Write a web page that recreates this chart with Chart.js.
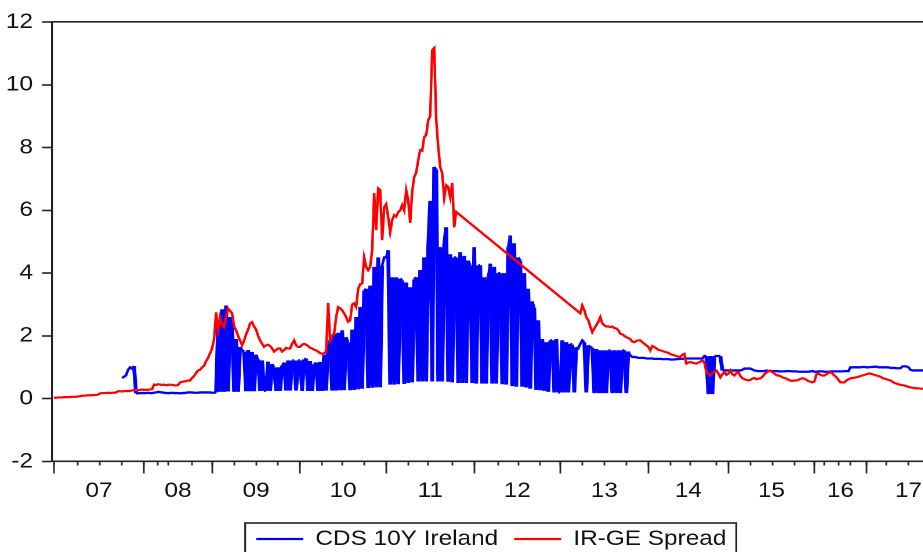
<!DOCTYPE html>
<html>
<head>
<meta charset="utf-8">
<script src="https://cdn.jsdelivr.net/npm/chart.js@4.4.1/dist/chart.umd.min.js"></script>
<style>
  html, body { margin: 0; padding: 0; background: #fff; overflow: hidden; width: 923px; height: 552px; }
  /* the plot is laid out in a narrower canvas and widened, which gives the wide lettering */
  #wrap { position: absolute; left: 0; top: 0; transform: scaleX(1.16); transform-origin: 0 0; }
</style>
</head>
<body>
<div id="wrap"><canvas id="chart" width="847" height="570"></canvas></div>
<script>
// Sampled observations (percentage points), one array per calendar year.
const yearLabels = ['07', '08', '09', '10', '11', '12', '13', '14', '15', '16', '17'];
const yTickValues = [-2, 0, 2, 4, 6, 8, 10, 12];

// observations per quarter in each year
const quarterObs = [
  [12, 11, 11, 11], [7, 5, 12, 10], [11, 11, 11, 11], [11, 10, 11, 11],
  [11, 10, 12, 11], [12, 10, 11, 10], [11, 11, 11, 11], [11, 10, 13, 6],
  [11, 11, 11, 10], [5, 7, 6, 8], [10, 11, 10, 11]
];

// CDS 10Y Ireland
const cds07 = [
  null, null, null, null, null, null, null, null, null, null,
  null, null, null, null, null, null, null, null, null, null,
  null, null, null, null, null, null, null, null, null, null,
  null, null, null, null,
  0.66, 0.70, 0.74, 0.92, 1.00, 0.96, 1.04, 0.17, 0.17, 0.18, 0.18
];
const cds08 = [
  0.18, 0.18, 0.19, 0.18, 0.18, 0.19, 0.20, 0.22, 0.21, 0.20,
  0.19, 0.18, 0.18, 0.18, 0.19, 0.18, 0.18, 0.18, 0.17, 0.18,
  0.18, 0.19, 0.20, 0.20, 0.20, 0.19, 0.19, 0.19, 0.20, 0.20,
  0.20, 0.20, 0.20, 0.20
];
const cds09 = [
  0.19, 0.19, 0.20, 2.30, 0.22, 2.85, 0.22, 2.97, 0.23, 2.60,
  2.30, 0.22, 1.90, 0.22, 1.65, 1.55, 1.50, 0.24, 1.55, 0.24,
  1.49, 0.24, 1.40, 1.25, 0.25, 1.22, 0.25, 0.25, 1.18, 0.25,
  1.10, 1.00, 0.25, 1.00, 0.25, 1.05, 1.15, 0.26, 1.22, 0.26,
  1.22, 1.22, 0.26, 1.22
];
const cds10 = [
  1.22, 0.25, 1.25, 1.28, 0.25, 1.20, 0.25, 1.10, 1.15, 0.25,
  1.17, 0.25, 1.40, 0.26, 1.75, 1.86, 0.26, 2.07, 0.26, 2.10,
  0.27, 2.18, 0.27, 1.96, 1.80, 0.27, 2.20, 0.28, 2.60, 0.30,
  2.92, 0.32, 3.45, 3.50, 0.34, 3.60, 0.35, 4.20, 0.36, 4.50,
  0.36, 4.25, 4.50
];
const cds11 = [
  4.50, 4.73, 0.45, 3.87, 0.45, 3.87, 0.46, 3.83, 3.77, 0.47,
  3.70, 0.50, 3.55, 0.52, 3.80, 3.87, 0.55, 4.10, 0.55, 4.50,
  0.55, 4.80, 6.30, 0.55, 7.38, 7.30, 0.55, 4.83, 0.55, 4.90,
  5.46, 0.54, 4.60, 0.52, 4.50, 4.50, 0.50, 4.67, 0.50, 4.55,
  0.50, 4.40, 4.25, 0.50
];
const cds12 = [
  4.83, 0.48, 4.25, 4.25, 0.48, 3.87, 0.48, 3.90, 4.30, 0.48,
  4.20, 0.48, 4.00, 4.00, 0.46, 4.00, 0.45, 4.83, 5.20, 0.40,
  4.95, 0.38, 4.50, 4.40, 0.38, 4.00, 0.36, 3.50, 0.32, 3.10,
  2.90, 0.28, 2.50, 0.27, 1.90, 0.25, 1.80, 0.22, 1.86, 1.86,
  0.20, 1.90, 0.20
];
const cds13 = [
  0.20, 1.86, 0.20, 1.80, 0.20, 1.75, 1.72, 0.20, 1.64, 1.60,
  1.75, 1.86, 1.80, 0.20, 1.70, 1.65, 1.62, 0.18, 1.58, 0.18,
  1.54, 0.18, 1.54, 0.18, 1.54, 1.54, 0.18, 1.54, 0.18, 1.54,
  0.18, 1.54, 1.54, 0.18, 1.50, 1.38, 1.33, 1.33, 1.32, 1.30,
  1.30, 1.30, 1.30, 1.28
];
const cds14 = [
  1.28, 1.28, 1.28, 1.27, 1.27, 1.27, 1.27, 1.26, 1.26, 1.26,
  1.26, 1.25, 1.25, 1.25, 1.26, 1.26, 1.27, 1.27, 1.28, 1.28,
  1.28, 1.28, 1.28, 1.28, 1.28, 1.28, 1.28, 1.28, 1.36, 1.36,
  0.15, 1.36, 0.15, 1.36, 1.36, 1.36, 1.36, 0.90, 0.90, 0.90
];
const cds15 = [
  0.90, 0.90, 0.90, 0.90, 0.90, 0.90, 0.90, 0.92, 0.96, 0.96,
  0.96, 0.96, 0.93, 0.90, 0.89, 0.88, 0.88, 0.88, 0.88, 0.90,
  0.88, 0.88, 0.88, 0.88, 0.88, 0.87, 0.87, 0.87, 0.87, 0.88,
  0.88, 0.88, 0.87, 0.87, 0.87, 0.86, 0.86, 0.86, 0.86, 0.86,
  0.86, 0.87, 0.88
];
const cds16 = [
  0.86, 0.86, 0.87, 0.87, 0.87, 0.86, 0.86, 0.86, 0.87, 0.87,
  0.87, 0.87, 0.87, 0.87, 0.87, 0.88, 0.88, 0.88, 1.00, 1.00,
  1.00, 1.00, 1.00, 1.00, 1.01, 1.01
];
const cds17 = [
  1.00, 1.00, 1.01, 1.01, 1.02, 1.02, 1.00, 1.00, 1.00, 1.00,
  1.00, 1.00, 0.98, 0.98, 0.98, 0.97, 0.97, 0.97, 1.03, 1.03,
  1.03, 1.00, 0.92, 0.90, 0.90, 0.90, 0.90, 0.90, 0.90, 0.90,
  0.90, 0.90, 0.90, 0.90, 0.90, 0.90, 0.90, 0.90, 0.90, 0.90,
  0.90, 0.90
];

// IR-GE Spread (no quotes between late 2011 and mid 2013)
const spread07 = [
  0.03, 0.03, 0.04, 0.04, 0.04, 0.05, 0.05, 0.05, 0.05, 0.06,
  0.06, 0.06, 0.07, 0.08, 0.09, 0.10, 0.10, 0.11, 0.11, 0.11,
  0.12, 0.12, 0.13, 0.17, 0.18, 0.18, 0.18, 0.19, 0.18, 0.19,
  0.19, 0.20, 0.24, 0.24, 0.23, 0.24, 0.25, 0.24, 0.25, 0.26,
  0.28, 0.28, 0.27, 0.28, 0.29
];
const spread08 = [
  0.28, 0.29, 0.28, 0.30, 0.30, 0.45, 0.44, 0.46, 0.45, 0.44,
  0.45, 0.43, 0.44, 0.45, 0.44, 0.43, 0.42, 0.44, 0.52, 0.54,
  0.55, 0.56, 0.58, 0.58, 0.66, 0.72, 0.82, 0.90, 0.92, 1.00,
  1.05, 1.20, 1.30, 1.45
];
const spread09 = [
  1.60, 1.90, 2.75, 2.20, 2.60, 2.35, 2.28, 2.60, 2.87, 2.80,
  2.72, 2.30, 2.18, 2.00, 1.85, 1.70, 1.85, 2.05, 2.20, 2.40,
  2.44, 2.30, 2.20, 2.00, 1.86, 1.75, 1.65, 1.70, 1.72, 1.68,
  1.60, 1.50, 1.55, 1.60, 1.60, 1.50, 1.55, 1.62, 1.60, 1.60,
  1.75, 1.86, 1.70, 1.65
];
const spread10 = [
  1.65, 1.72, 1.75, 1.72, 1.68, 1.62, 1.60, 1.56, 1.54, 1.50,
  1.45, 1.43, 1.45, 1.50, 3.05, 1.86, 2.00, 2.07, 2.60, 2.92,
  2.88, 2.82, 2.72, 2.60, 2.45, 2.50, 3.00, 3.04, 2.92, 3.50,
  3.65, 3.67, 4.50, 4.20, 4.09, 4.20, 4.73, 6.55, 5.37, 6.70,
  6.65, 5.05, 6.10
];
const spread11 = [
  6.20, 5.78, 5.30, 5.69, 5.85, 5.80, 5.94, 6.00, 6.17, 6.00,
  6.64, 6.33, 5.60, 6.60, 7.06, 7.20, 7.60, 7.92, 7.90, 8.33,
  8.40, 8.87, 9.00, 11.10, 11.17, 8.90, 8.03, 7.38, 7.18, 6.40,
  6.80, 6.74, 6.42, 6.87, 5.46, 5.95, null, null, null, null,
  null, null, null, null
];
const spread12 = [
  null, null, null, null, null, null, null, null, null, null,
  null, null, null, null, null, null, null, null, null, null,
  null, null, null, null, null, null, null, null, null, null,
  null, null, null, null, null, null, null, null, null, null,
  null, null, null
];
const spread13 = [
  null, null, null, null, null, null, null, null, null, null,
  2.72, 2.97, 2.82, 2.60, 2.50, 2.30, 2.12, 2.24, 2.34, 2.45,
  2.60, 2.40, 2.34, 2.30, 2.30, 2.28, 2.30, 2.25, 2.24, 2.18,
  2.07, 2.05, 2.00, 1.96, 1.93, 1.90, 1.82, 1.80, 1.84, 1.86,
  1.86, 1.80, 1.75, 1.70
];
const spread14 = [
  1.65, 1.54, 1.68, 1.65, 1.60, 1.56, 1.54, 1.52, 1.50, 1.48,
  1.46, 1.42, 1.40, 1.38, 1.36, 1.34, 1.33, 1.40, 1.43, 1.12,
  1.15, 1.17, 1.15, 1.13, 1.12, 1.15, 1.18, 1.22, 1.15, 0.85,
  0.78, 0.74, 0.82, 0.86, 0.90, 0.80, 0.68, 0.78, 0.85, 0.76
];
const spread15 = [
  0.80, 0.90, 0.78, 0.74, 0.82, 0.85, 0.72, 0.65, 0.62, 0.60,
  0.58, 0.60, 0.64, 0.66, 0.62, 0.64, 0.65, 0.70, 0.78, 0.84,
  0.88, 0.90, 0.85, 0.80, 0.75, 0.74, 0.72, 0.68, 0.66, 0.64,
  0.60, 0.58, 0.57, 0.58, 0.58, 0.60, 0.63, 0.65, 0.64, 0.60,
  0.56, 0.54, 0.52
];
const spread16 = [
  0.55, 0.78, 0.80, 0.76, 0.74, 0.74, 0.78, 0.82, 0.85, 0.80,
  0.74, 0.68, 0.60, 0.52, 0.52, 0.52, 0.58, 0.62, 0.65, 0.66,
  0.67, 0.68, 0.70, 0.72, 0.74, 0.76
];
const spread17 = [
  0.78, 0.80, 0.80, 0.78, 0.76, 0.74, 0.72, 0.70, 0.66, 0.64,
  0.62, 0.60, 0.58, 0.54, 0.50, 0.48, 0.46, 0.44, 0.43, 0.42,
  0.40, 0.38, 0.36, 0.35, 0.34, 0.33, 0.33, 0.32, 0.32, 0.31,
  0.30, 0.30, 0.31, 0.30, 0.29, 0.30, 0.30, 0.29, 0.30, 0.30,
  0.30, 0.30
];

const cdsYears = [cds07, cds08, cds09, cds10, cds11, cds12, cds13, cds14, cds15, cds16, cds17];
const spreadYears = [spread07, spread08, spread09, spread10, spread11, spread12, spread13, spread14, spread15, spread16, spread17];

// observation index of each year's first quote
const yearStart = [];
let obsCount = 0;
cdsYears.forEach((arr, k) => {
  if (arr.length !== spreadYears[k].length) console.warn('length mismatch', yearLabels[k]);
  yearStart.push(obsCount);
  obsCount += arr.length;
});
const lastObs = obsCount;
// the time axis runs on a little past the final quote
const axisEnd = lastObs + 16;

const quarterTicks = [];
quarterObs.forEach((q, k) => {
  let p = yearStart[k];
  q.forEach(c => { quarterTicks.push(p); p += c; });
});
quarterTicks.push(lastObs);
const yearTicks = yearStart.concat([lastObs]);
const labelTicks = yearStart.map((s, k) => ({
  value: (s + (k + 1 < yearStart.length ? yearStart[k + 1] : lastObs)) / 2,
  yr: yearLabels[k]
}));

const toPoints = years => years.flat().map((v, i) => ({ x: i, y: v }));

const FONT = "'Liberation Sans', Arial, Helvetica, sans-serif";
const AXIS = '#222';

// near-vertical jumps between quotes are stroked a little heavier so dense runs read as a solid band
const jumpWidth = c => Math.abs(c.p1.y - c.p0.y) > 14 ? 3.3 : undefined;

// frame around the legend row
const legendFrame = {
  id: 'legendFrame',
  afterDraw(chart) {
    const boxes = chart.legend && chart.legend.legendHitBoxes;
    if (!boxes || !boxes.length) return;
    const left = Math.min(...boxes.map(b => b.left)) - 9.5;
    const right = Math.max(...boxes.map(b => b.left + b.width)) + 8.6;
    const top = boxes[0].top - 5.5;
    const ctx = chart.ctx;
    ctx.save();
    ctx.strokeStyle = AXIS;
    ctx.lineWidth = 1.6;
    ctx.strokeRect(left, top, right - left, 34);
    ctx.restore();
  }
};

new Chart(document.getElementById('chart'), {
  type: 'line',
  data: {
    datasets: [
      {
        label: 'CDS 10Y Ireland',
        data: toPoints(cdsYears),
        borderColor: '#0000ff',
        backgroundColor: '#0000ff',
        borderWidth: 2.3,
        segment: { borderWidth: jumpWidth },
        pointRadius: 0,
        pointStyle: 'line',
        spanGaps: false,
        order: 2,
        xAxisID: 'x',
        yAxisID: 'y'
      },
      {
        label: 'IR-GE Spread',
        data: toPoints(spreadYears),
        borderColor: '#ff0000',
        backgroundColor: '#ff0000',
        borderWidth: 2.2,
        pointRadius: 0,
        pointStyle: 'line',
        spanGaps: true,
        order: 1,
        xAxisID: 'x',
        yAxisID: 'y'
      }
    ]
  },
  options: {
    responsive: false,
    animation: false,
    devicePixelRatio: 2,
    layout: { padding: { top: 22, bottom: 10.5, left: 0, right: 0 } },
    plugins: {
      tooltip: { enabled: false },
      legend: {
        position: 'bottom',
        labels: {
          usePointStyle: true,
          pointStyleWidth: 40.5,
          padding: 13.8,
          color: '#111',
          font: { family: FONT, size: 21 },
          sort: (a, b) => a.datasetIndex - b.datasetIndex
        }
      }
    },
    scales: {
      x: {
        type: 'linear',
        axis: 'x',
        position: 'bottom',
        min: -1,
        max: axisEnd,
        afterFit: s => { s.height = 53.2; },
        afterBuildTicks: s => {
          s.ticks = quarterTicks.map(v => ({ value: v }))
            .concat(labelTicks.map(t => ({ value: t.value, yr: t.yr })))
            .sort((a, b) => a.value - b.value);
        },
        ticks: {
          autoSkip: false,
          maxRotation: 0,
          minRotation: 0,
          padding: 13,
          color: '#111',
          font: { family: FONT, size: 21 },
          callback: (v, i, ticks) => ticks[i].yr || ''
        },
        grid: {
          drawOnChartArea: false,
          tickLength: 4,
          tickWidth: 1.4,
          tickColor: c => (c.tick && c.tick.yr) ? 'rgba(0,0,0,0)' : AXIS
        },
        border: { display: true, color: AXIS, width: 1.6 }
      },
      xYears: {
        type: 'linear',
        axis: 'x',
        position: { y: -2 },
        min: -1,
        max: axisEnd,
        afterBuildTicks: s => { s.ticks = yearTicks.map(v => ({ value: v })); },
        ticks: { display: false },
        grid: { drawOnChartArea: false, tickLength: 12, tickWidth: 1.4, tickColor: AXIS },
        border: { display: false }
      },
      xTop: {
        type: 'linear',
        axis: 'x',
        position: { y: 12 },
        min: -1,
        max: axisEnd,
        ticks: { display: false },
        grid: { display: false },
        border: { display: true, color: AXIS, width: 1.6 }
      },
      y: {
        type: 'linear',
        position: 'left',
        min: -2,
        max: 12,
        afterFit: s => { s.width = 44.8; },
        afterBuildTicks: s => { s.ticks = yTickValues.map(v => ({ value: v })); },
        ticks: {
          padding: 7.8,
          color: '#111',
          font: { family: FONT, size: 21 },
          callback: v => String(v)
        },
        grid: { drawOnChartArea: false, tickLength: 8.6, tickWidth: 1.6, tickColor: AXIS },
        border: { display: true, color: AXIS, width: 1.6 }
      }
    }
  },
  plugins: [legendFrame]
});
</script>
</body>
</html>
